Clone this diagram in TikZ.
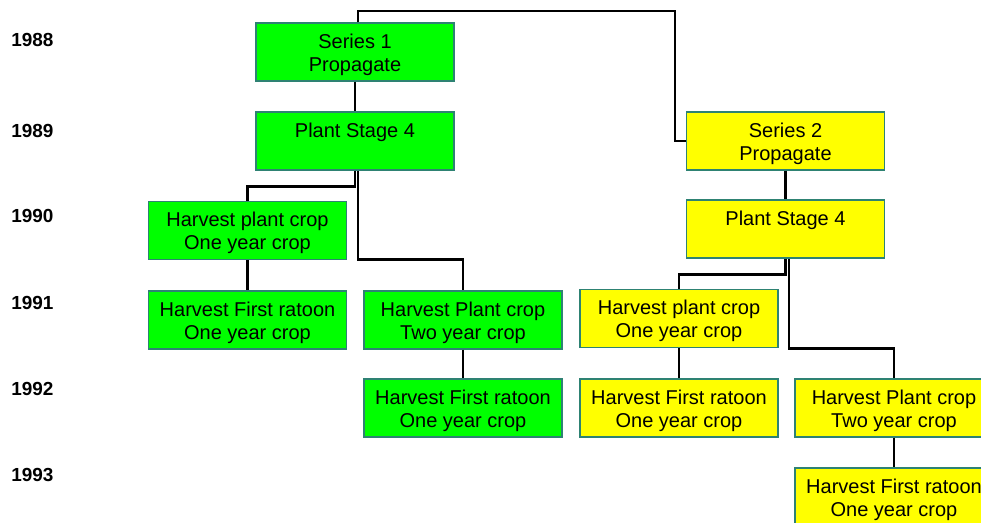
\documentclass[tikz,border=0pt]{standalone}
\usepackage{fontspec}
\setmainfont{Liberation Sans}
\usetikzlibrary{calc}
\definecolor{boxgreen}{RGB}{0,255,0}
\definecolor{boxyellow}{RGB}{255,255,0}
\definecolor{boxedge}{RGB}{46,130,115}
\newcommand{\tpad}{\rule{0pt}{14.6pt}}
\newcommand{\bpad}{\rule[-3.2pt]{0pt}{3.2pt}}
\begin{document}
\begin{tikzpicture}[x=0.75pt,y=-0.75pt,
  cbox/.style={rectangle, draw=boxedge, line width=0.9pt, minimum width=148.5pt, minimum height=43.5pt,
    inner sep=0pt, align=center, font=\fontsize{15}{17.25}\selectfont, text=black},
  gbox/.style={cbox, fill=boxgreen},
  ybox/.style={cbox, fill=boxyellow},
  yearlbl/.style={anchor=west, inner sep=0pt, font=\fontsize{14.2}{16}\selectfont\bfseries},
  link/.style={draw=black, line width=2pt}]
\useasboundingbox (0,0) rectangle (981,523);
\clip (0,0) rectangle (981,523);
% years
\node[yearlbl] (y88) at (11,40) {1988};
\node[yearlbl] (y89) at (11,130.5) {1989};
\node[yearlbl] (y90) at (11,216) {1990};
\node[yearlbl] (y91) at (11,302.5) {1991};
\node[yearlbl] (y92) at (11,388.5) {1992};
\node[yearlbl] (y93) at (11,474.5) {1993};
% series 1 (green)
\node[gbox] (s1) at (355,52) {\tpad Series 1\\Propagate\bpad};
\node[gbox] (p1) at (355,141) {\tpad Plant Stage 4\\\bpad};
\node[gbox] (h1) at (247.5,230.5) {\tpad Harvest plant crop\\One year crop\bpad};
\node[gbox] (r1) at (247.5,320) {\tpad Harvest First ratoon\\One year crop\bpad};
\node[gbox] (h2) at (463,320) {\tpad Harvest Plant crop\\Two year crop\bpad};
\node[gbox] (r2) at (463,408) {\tpad Harvest First ratoon\\One year crop\bpad};
% series 2 (yellow)
\node[ybox] (s2) at (785.5,141) {\tpad Series 2\\Propagate\bpad};
\node[ybox] (p2) at (785.5,229) {\tpad Plant Stage 4\\\bpad};
\node[ybox] (q1) at (679,318.5) {\tpad Harvest plant crop\\One year crop\bpad};
\node[ybox] (q3) at (679,408) {\tpad Harvest First ratoon\\One year crop\bpad};
\node[ybox] (q2) at (894,408) {\tpad Harvest Plant crop\\Two year crop\bpad};
\node[ybox] (q4) at (894,497) {\tpad Harvest First ratoon\\One year crop\bpad};
% connectors
\coordinate (top) at (675,11);
\draw[link] ($(s1.north)+(3,0)$) |- (top) |- (s2.west);
\draw[link] (s1.south) -- (p1.north);
\draw[link] (p1.south) -- ++(0,16) -| (h1.north);
\draw[link] ($(p1.south)+(3,0)$) -- ++(0,89) -| (h2.north);
\draw[link] (h1.south) -- (r1.north);
\draw[link] (h2.south) -- (r2.north);
\draw[link] (s2.south) -- (p2.north);
\draw[link] (p2.south) -- ++(0,16) -| (q1.north);
\draw[link] ($(p2.south)+(3.5,0)$) -- ++(0,90) -| (q2.north);
\draw[link] (q1.south) -- (q3.north);
\draw[link] (q2.south) -- (q4.north);
\end{tikzpicture}
\end{document}
